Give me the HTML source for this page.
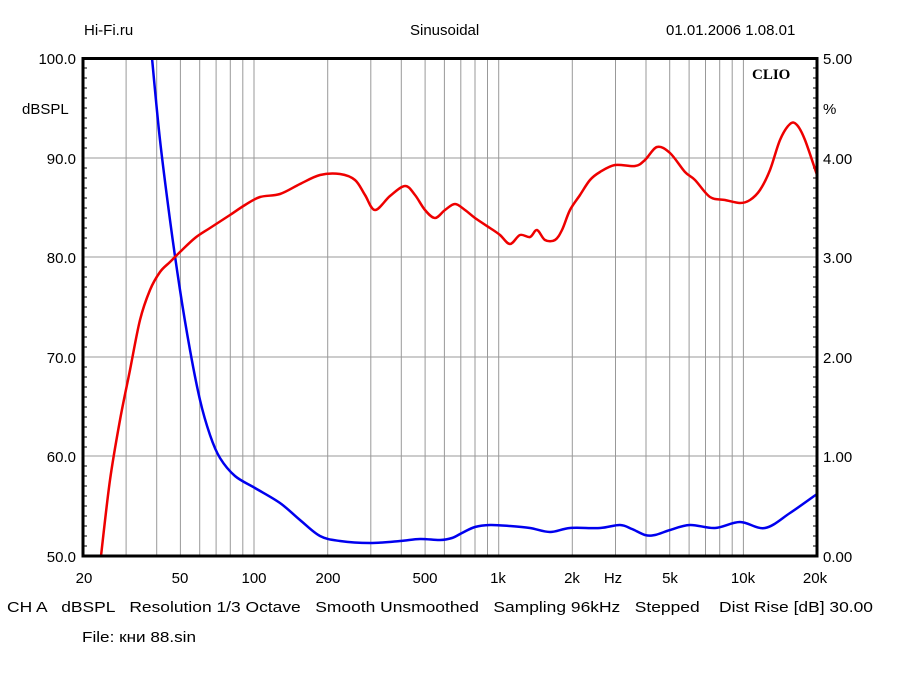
<!DOCTYPE html>
<html><head><meta charset="utf-8"><style>
html,body{margin:0;padding:0;background:#fff;}
svg{display:block;font-family:"Liberation Sans",sans-serif;}
</style></head><body>
<svg width="900" height="675" viewBox="0 0 900 675" xmlns="http://www.w3.org/2000/svg">
<rect width="900" height="675" fill="#fff"/>
<g stroke="#999" stroke-width="1">
<line x1="126.1" y1="58" x2="126.1" y2="556"/><line x1="156.7" y1="58" x2="156.7" y2="556"/>
<line x1="180.4" y1="58" x2="180.4" y2="556"/><line x1="199.7" y1="58" x2="199.7" y2="556"/>
<line x1="216.1" y1="58" x2="216.1" y2="556"/><line x1="230.3" y1="58" x2="230.3" y2="556"/>
<line x1="242.8" y1="58" x2="242.8" y2="556"/><line x1="254" y1="58" x2="254" y2="556"/>
<line x1="327.7" y1="58" x2="327.7" y2="556"/><line x1="370.8" y1="58" x2="370.8" y2="556"/>
<line x1="401.3" y1="58" x2="401.3" y2="556"/><line x1="425.1" y1="58" x2="425.1" y2="556"/>
<line x1="444.4" y1="58" x2="444.4" y2="556"/><line x1="460.8" y1="58" x2="460.8" y2="556"/>
<line x1="475" y1="58" x2="475" y2="556"/><line x1="487.5" y1="58" x2="487.5" y2="556"/>
<line x1="498.7" y1="58" x2="498.7" y2="556"/>
<line x1="572.3" y1="58" x2="572.3" y2="556"/><line x1="615.5" y1="58" x2="615.5" y2="556"/>
<line x1="646" y1="58" x2="646" y2="556"/><line x1="669.7" y1="58" x2="669.7" y2="556"/>
<line x1="689.1" y1="58" x2="689.1" y2="556"/><line x1="705.5" y1="58" x2="705.5" y2="556"/>
<line x1="719.7" y1="58" x2="719.7" y2="556"/><line x1="732.2" y1="58" x2="732.2" y2="556"/>
<line x1="743.4" y1="58" x2="743.4" y2="556"/>
<line x1="83" y1="158" x2="817" y2="158"/><line x1="83" y1="257" x2="817" y2="257"/>
<line x1="83" y1="357" x2="817" y2="357"/><line x1="83" y1="456" x2="817" y2="456"/>
</g>
<g stroke="#000" stroke-width="1">
<path d="M83 68h4M83 78h4M83 88h4M83 98h4M83 108h4M83 118h4M83 128h4M83 138h4M83 148h4M83 168h4M83 178h4M83 188h4M83 198h4M83 208h4M83 218h4M83 228h4M83 238h4M83 248h4M83 267h4M83 277h4M83 287h4M83 297h4M83 307h4M83 317h4M83 327h4M83 337h4M83 347h4M83 367h4M83 377h4M83 387h4M83 397h4M83 407h4M83 417h4M83 427h4M83 437h4M83 447h4M83 466h4M83 476h4M83 486h4M83 496h4M83 506h4M83 516h4M83 526h4M83 536h4M83 546h4"/>
<path d="M817 68h-4M817 78h-4M817 88h-4M817 98h-4M817 108h-4M817 118h-4M817 128h-4M817 138h-4M817 148h-4M817 168h-4M817 178h-4M817 188h-4M817 198h-4M817 208h-4M817 218h-4M817 228h-4M817 238h-4M817 248h-4M817 267h-4M817 277h-4M817 287h-4M817 297h-4M817 307h-4M817 317h-4M817 327h-4M817 337h-4M817 347h-4M817 367h-4M817 377h-4M817 387h-4M817 397h-4M817 407h-4M817 417h-4M817 427h-4M817 437h-4M817 447h-4M817 466h-4M817 476h-4M817 486h-4M817 496h-4M817 506h-4M817 516h-4M817 526h-4M817 536h-4M817 546h-4"/>
</g>
<path id="blue" fill="none" stroke="#0000ee" stroke-width="2.5" stroke-linejoin="round" d=""/>
<path id="red" fill="none" stroke="#ee0000" stroke-width="2.5" stroke-linejoin="round" d=""/>
<rect x="83" y="58.5" width="734" height="497.5" fill="none" stroke="#000" stroke-width="3"/>
<g font-size="15" fill="#000">
<text x="84" y="35">Hi-Fi.ru</text>
<text x="410" y="35">Sinusoidal</text>
<text x="666" y="35">01.01.2006 1.08.01</text>
<text x="752" y="79" font-family="Liberation Serif,serif" font-weight="bold" font-size="15">CLIO</text>
<g text-anchor="end">
<text x="76" y="64">100.0</text><text x="76" y="164">90.0</text><text x="76" y="263">80.0</text>
<text x="76" y="363">70.0</text><text x="76" y="462">60.0</text><text x="76" y="562">50.0</text>
</g>
<text x="22" y="114">dBSPL</text>
<text x="823" y="64">5.00</text><text x="823" y="164">4.00</text><text x="823" y="263">3.00</text>
<text x="823" y="363">2.00</text><text x="823" y="462">1.00</text><text x="823" y="562">0.00</text>
<text x="823" y="114">%</text>
<g text-anchor="middle">
<text x="84" y="583">20</text><text x="180" y="583">50</text><text x="254" y="583">100</text>
<text x="328" y="583">200</text><text x="425" y="583">500</text><text x="498" y="583">1k</text>
<text x="572" y="583">2k</text><text x="613" y="583">Hz</text><text x="670" y="583">5k</text>
<text x="743" y="583">10k</text><text x="815" y="583">20k</text>
</g>
<text x="7" y="612" textLength="866" lengthAdjust="spacingAndGlyphs" xml:space="preserve">CH A   dBSPL   Resolution 1/3 Octave   Smooth Unsmoothed   Sampling 96kHz   Stepped    Dist Rise [dB] 30.00</text>
<text x="82" y="642" textLength="114" lengthAdjust="spacingAndGlyphs">File: кни 88.sin</text>
</g>
</svg>
<script>
function smooth(s){
  var a=s.trim().split(/\s+/).map(function(p){return p.split(',').map(Number);});
  var d='M'+a[0][0]+' '+a[0][1];
  for(var i=0;i<a.length-1;i++){
    var p0=a[Math.max(i-1,0)],p1=a[i],p2=a[i+1],p3=a[Math.min(i+2,a.length-1)];
    var c1x=p1[0]+(p2[0]-p0[0])/6,c1y=p1[1]+(p2[1]-p0[1])/6;
    var c2x=p2[0]-(p3[0]-p1[0])/6,c2y=p2[1]-(p3[1]-p1[1])/6;
    d+='C'+c1x.toFixed(1)+' '+c1y.toFixed(1)+' '+c2x.toFixed(1)+' '+c2y.toFixed(1)+' '+p2[0]+' '+p2[1];
  }
  return d;
}
document.getElementById('blue').setAttribute('d',smooth("152,58 160,140 170,220 180,290 190,350 200,400 210,435 220,458 235,476 255,488 280,503 300,520 320,536 340,541 370,543 400,541 420,539 440,540 452,538 462,533 475,527 490,525 510,526 530,528 550,532 570,528 600,528 620,525 632,529 645,535 655,535 670,530 690,525 715,528 740,522 765,528 790,513 817,494"));
document.getElementById('red').setAttribute('d',smooth("101,556 110,480 120,420 130,370 140,320 150,290 160,272 170,262 180,252 195,238 210,228 230,215 245,205 260,197 280,194 300,184 320,175 340,174 355,180 365,195 375,210 390,196 405,186 415,195 425,210 435,218 445,210 455,204 465,210 475,218 490,228 500,235 510,244 520,235 530,237 537,230 545,240 555,240 562,230 570,210 580,195 590,180 600,172 615,165 635,166 645,160 657,147 670,153 685,172 695,180 710,197 725,200 740,203 750,200 760,190 770,170 780,140 790,124 797,125 805,140 817,175"));
</script>
</body></html>
